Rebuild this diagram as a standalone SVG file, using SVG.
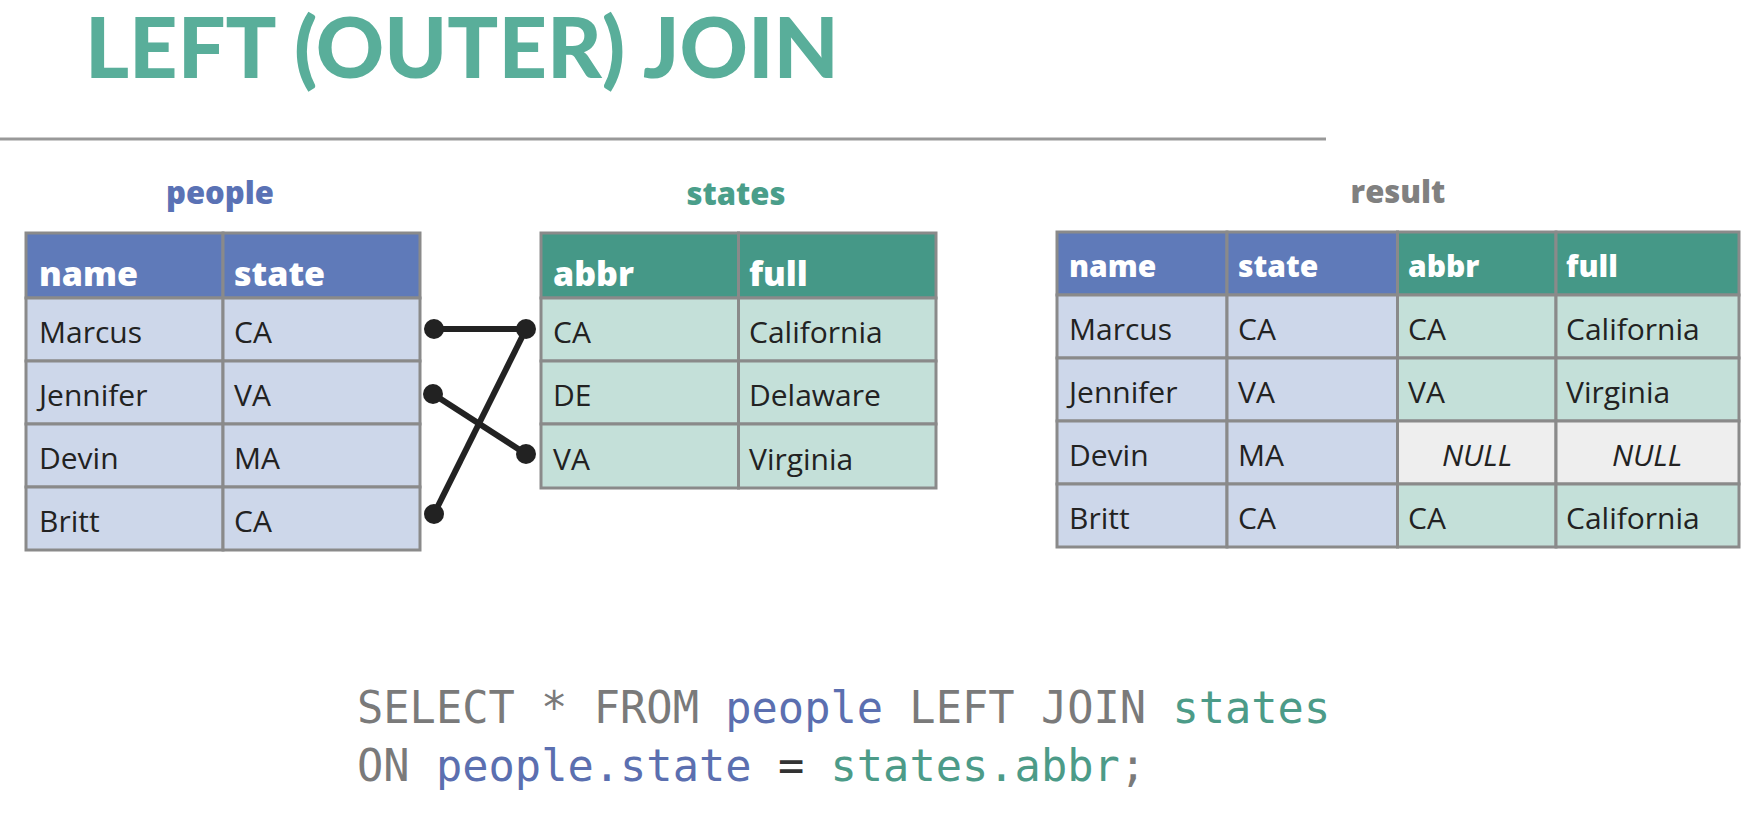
<svg xmlns="http://www.w3.org/2000/svg" width="1756" height="813" viewBox="0 0 1756 813">
<style>
.title{font-family:"Lato","Open Sans",sans-serif;font-weight:900;font-size:84px;fill:#59ae9a}
.lbl{font-family:"Open Sans","Noto Sans",sans-serif;font-weight:800;font-size:31px;text-anchor:middle}
.hb{fill:#5f7ab9;stroke:#8a8a8a;stroke-width:3}
.ht{fill:#459887;stroke:#8a8a8a;stroke-width:3}
.cb{fill:#cdd7ea;stroke:#8a8a8a;stroke-width:3}
.ct{fill:#c4e0d9;stroke:#8a8a8a;stroke-width:3}
.cn{fill:#eeeeee;stroke:#8a8a8a;stroke-width:3}
.th{font-family:"Open Sans","Noto Sans",sans-serif;font-weight:800;font-size:34px;fill:#ffffff}
.th2{font-family:"Open Sans","Noto Sans",sans-serif;font-weight:800;font-size:30px;fill:#ffffff}
.td{font-family:"Open Sans","Noto Sans",sans-serif;font-size:30px;fill:#222222}
.nul{font-family:"Open Sans","Noto Sans",sans-serif;font-style:italic;font-size:30px;fill:#222222;text-anchor:middle}
.code{font-family:"DejaVu Sans Mono","Liberation Mono",monospace;font-size:43.7px;fill:#7a7a7a}
.cbl{fill:#5b6fb0}
.ctl{fill:#4c9b88}
.ceq{fill:#333333}
.conn line{stroke:#222222;stroke-width:6}
.conn circle{fill:#222222}
</style>

<g id="title">
<text class="title" x="85" y="78" textLength="754" lengthAdjust="spacingAndGlyphs">LEFT (OUTER) JOIN</text>
<line x1="0" y1="139" x2="1326" y2="139" stroke="#999999" stroke-width="3"/>
</g>

<g id="people">
<text class="lbl" x="220" y="204" fill="#5a72b5">people</text>
<rect class="hb" x="26" y="233" width="197" height="65"/>
<rect class="hb" x="223" y="233" width="197" height="65"/>
<rect class="cb" x="26" y="298" width="197" height="63"/>
<rect class="cb" x="223" y="298" width="197" height="63"/>
<rect class="cb" x="26" y="361" width="197" height="63"/>
<rect class="cb" x="223" y="361" width="197" height="63"/>
<rect class="cb" x="26" y="424" width="197" height="63"/>
<rect class="cb" x="223" y="424" width="197" height="63"/>
<rect class="cb" x="26" y="487" width="197" height="63"/>
<rect class="cb" x="223" y="487" width="197" height="63"/>
<text class="th" x="39" y="286">name</text>
<text class="th" x="234" y="286">state</text>
<text class="td" x="39" y="343">Marcus</text>
<text class="td" x="234" y="343">CA</text>
<text class="td" x="39" y="406">Jennifer</text>
<text class="td" x="234" y="406">VA</text>
<text class="td" x="39" y="469">Devin</text>
<text class="td" x="234" y="469">MA</text>
<text class="td" x="39" y="532">Britt</text>
<text class="td" x="234" y="532">CA</text>
</g>

<g id="states">
<text class="lbl" x="736" y="205" fill="#4a9e8a">states</text>
<rect class="ht" x="541" y="233" width="197.5" height="65"/>
<rect class="ht" x="738.5" y="233" width="197.5" height="65"/>
<rect class="ct" x="541" y="298" width="197.5" height="63"/>
<rect class="ct" x="738.5" y="298" width="197.5" height="63"/>
<rect class="ct" x="541" y="361" width="197.5" height="63"/>
<rect class="ct" x="738.5" y="361" width="197.5" height="63"/>
<rect class="ct" x="541" y="424" width="197.5" height="64"/>
<rect class="ct" x="738.5" y="424" width="197.5" height="64"/>
<text class="th" x="553" y="286">abbr</text>
<text class="th" x="749" y="286">full</text>
<text class="td" x="553" y="343">CA</text>
<text class="td" x="749" y="343">California</text>
<text class="td" x="553" y="406">DE</text>
<text class="td" x="749" y="406">Delaware</text>
<text class="td" x="553" y="470">VA</text>
<text class="td" x="749" y="470">Virginia</text>
</g>

<g id="result">
<text class="lbl" x="1398" y="203" fill="#808080">result</text>
<rect class="hb" x="1057" y="232" width="170" height="63"/>
<rect class="hb" x="1227" y="232" width="170.5" height="63"/>
<rect class="ht" x="1397.5" y="232" width="158.5" height="63"/>
<rect class="ht" x="1556" y="232" width="183" height="63"/>
<rect class="cb" x="1057" y="295" width="170" height="63"/>
<rect class="cb" x="1227" y="295" width="170.5" height="63"/>
<rect class="ct" x="1397.5" y="295" width="158.5" height="63"/>
<rect class="ct" x="1556" y="295" width="183" height="63"/>
<rect class="cb" x="1057" y="358" width="170" height="63"/>
<rect class="cb" x="1227" y="358" width="170.5" height="63"/>
<rect class="ct" x="1397.5" y="358" width="158.5" height="63"/>
<rect class="ct" x="1556" y="358" width="183" height="63"/>
<rect class="cb" x="1057" y="421" width="170" height="63"/>
<rect class="cb" x="1227" y="421" width="170.5" height="63"/>
<rect class="cn" x="1397.5" y="421" width="158.5" height="63"/>
<rect class="cn" x="1556" y="421" width="183" height="63"/>
<rect class="cb" x="1057" y="484" width="170" height="63"/>
<rect class="cb" x="1227" y="484" width="170.5" height="63"/>
<rect class="ct" x="1397.5" y="484" width="158.5" height="63"/>
<rect class="ct" x="1556" y="484" width="183" height="63"/>
<text class="th2" x="1069" y="277">name</text>
<text class="th2" x="1238" y="277">state</text>
<text class="th2" x="1408" y="277">abbr</text>
<text class="th2" x="1566" y="277">full</text>
<text class="td" x="1069" y="340">Marcus</text>
<text class="td" x="1238" y="340">CA</text>
<text class="td" x="1408" y="340">CA</text>
<text class="td" x="1566" y="340">California</text>
<text class="td" x="1069" y="403">Jennifer</text>
<text class="td" x="1238" y="403">VA</text>
<text class="td" x="1408" y="403">VA</text>
<text class="td" x="1566" y="403">Virginia</text>
<text class="td" x="1069" y="466">Devin</text>
<text class="td" x="1238" y="466">MA</text>
<text class="nul" x="1477" y="466">NULL</text>
<text class="nul" x="1647" y="466">NULL</text>
<text class="td" x="1069" y="529">Britt</text>
<text class="td" x="1238" y="529">CA</text>
<text class="td" x="1408" y="529">CA</text>
<text class="td" x="1566" y="529">California</text>
</g>

<g id="connectors" class="conn">
<line x1="434" y1="329" x2="526" y2="329"/>
<line x1="433" y1="394" x2="526" y2="454"/>
<line x1="434" y1="514" x2="526" y2="329"/>
<circle cx="434" cy="329" r="10"/>
<circle cx="526" cy="329" r="10"/>
<circle cx="433" cy="394" r="10"/>
<circle cx="526" cy="454" r="10"/>
<circle cx="434" cy="514" r="10"/>
</g>

<g id="sql">
<text class="code" x="357" y="723">SELECT * FROM <tspan class="cbl">people</tspan> LEFT JOIN <tspan class="ctl">states</tspan></text>
<text class="code" x="357" y="781">ON <tspan class="cbl">people.state</tspan> <tspan class="ceq">=</tspan> <tspan class="ctl">states.abbr</tspan>;</text>
</g>
</svg>
